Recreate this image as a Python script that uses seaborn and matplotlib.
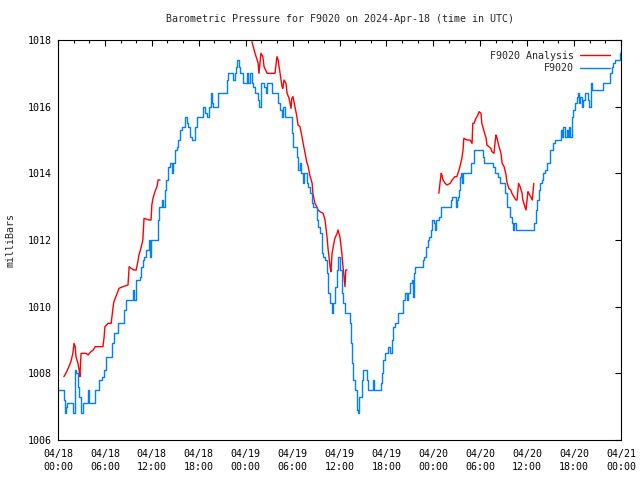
import matplotlib
matplotlib.use('Agg')
import matplotlib.dates as mdates
from matplotlib import pyplot as plt
import numpy as np
import pandas as pd
import seaborn as sns

START = pd.Timestamp('2024-04-18 00:00')

# F9020 observations: hours since 04/18 00:00 UTC, pressure in mb
obs_hours = [0.0, 0.64, 0.77, 0.9, 1.0, 1.15, 1.8, 1.9, 2.2, 2.3, 2.55, 2.7, 2.95, 3.2, 3.85, 4.0,
             4.7, 5.25, 5.6, 5.9, 6.15, 6.9, 7.15, 7.7, 8.45, 8.7, 9.6, 9.7, 10.0, 10.5, 10.6, 10.85,
             11.0, 11.25, 11.65, 11.75, 11.9, 12.8, 12.9, 13.3, 13.4, 13.7, 13.8, 14.05, 14.3, 14.6,
             14.7, 14.95, 15.2, 15.35, 15.6, 15.85, 16.25, 16.5, 16.6, 16.9, 17.15, 17.5, 17.8,
             18.55, 18.8, 19.05, 19.3, 19.55, 19.7, 19.8, 20.45, 21.6, 21.75, 22.4, 22.65, 22.75,
             22.9, 23.15, 23.3, 23.65, 24.15, 24.3, 24.55, 24.8, 24.95, 25.2, 25.6, 25.7, 25.95,
             26.35, 26.6, 26.75, 27.1, 27.35, 28.15, 28.4, 28.65, 28.75, 29.0, 29.9, 30.05, 30.55,
             30.7, 30.95, 31.05, 31.35, 31.45, 31.85, 31.95, 32.2, 32.5, 32.6, 33.1, 33.25, 33.5,
             33.75, 33.9, 34.15, 34.4, 34.55, 34.8, 35.05, 35.2, 35.4, 35.7, 35.8, 36.05, 36.3,
             36.45, 36.7, 37.35, 37.45, 37.6, 37.7, 38.0, 38.25, 38.35, 38.5, 38.9, 39.0, 39.5,
             39.65, 40.3, 40.4, 41.3, 41.45, 41.55, 41.8, 42.2, 42.45, 42.7, 42.85, 43.1, 43.5,
             44.1, 44.35, 44.65, 44.75, 45.0, 45.25, 45.4, 45.5, 45.65, 46.7, 46.8, 47.05, 47.3,
             47.45, 47.7, 47.85, 48.1, 48.2, 48.35, 48.7, 49.0, 50.25, 50.4, 50.9, 51.0, 51.15,
             51.3, 51.4, 51.55, 51.65, 51.8, 52.8, 53.2, 54.35, 54.5, 55.6, 55.9, 56.25, 56.5,
             57.15, 57.4, 57.8, 58.05, 58.2, 58.3, 58.55, 60.85, 61.1, 61.25, 61.5, 61.65, 61.9,
             62.0, 62.3, 62.55, 62.9, 63.3, 63.55, 64.3, 64.45, 64.6, 64.85, 65.1, 65.2, 65.35,
             65.45, 65.75, 65.85, 66.1, 66.35, 66.5, 66.6, 66.75, 67.0, 67.1, 67.4, 67.75, 67.9,
             68.15, 68.3, 68.4, 69.7, 70.6, 70.85, 70.95, 71.2, 71.85, 72.0]
obs_mb = [1007.5, 1007.5, 1007.2, 1006.8, 1007.0, 1007.1, 1007.1, 1006.8, 1008.1, 1008.0, 1007.6,
          1007.3, 1006.8, 1007.1, 1007.5, 1007.1, 1007.5, 1007.8, 1007.9, 1008.1, 1008.5, 1008.9,
          1009.2, 1009.5, 1009.9, 1010.2, 1010.5, 1010.2, 1010.8, 1010.9, 1011.2, 1011.4, 1011.5,
          1011.7, 1012.0, 1011.5, 1012.0, 1012.6, 1013.0, 1013.2, 1013.0, 1013.5, 1013.8, 1014.2,
          1014.3, 1014.0, 1014.3, 1014.7, 1014.8, 1015.0, 1015.3, 1015.4, 1015.7, 1015.5, 1015.4,
          1015.1, 1015.0, 1015.4, 1015.7, 1016.0, 1015.8, 1015.7, 1016.0, 1016.4, 1016.1, 1016.0,
          1016.4, 1016.8, 1017.0, 1016.8, 1017.0, 1017.2, 1017.4, 1017.2, 1017.0, 1016.7, 1017.0,
          1016.7, 1017.0, 1016.7, 1016.6, 1016.4, 1016.2, 1016.0, 1016.7, 1016.6, 1016.4, 1016.7,
          1016.7, 1016.4, 1016.1, 1015.9, 1015.7, 1016.0, 1015.7, 1015.2, 1014.8, 1014.5, 1014.1,
          1014.3, 1014.0, 1013.7, 1014.0, 1013.7, 1013.6, 1013.4, 1013.1, 1013.0, 1012.6, 1012.4,
          1012.2, 1011.6, 1011.5, 1011.4, 1011.0, 1010.4, 1010.1, 1009.8, 1010.1, 1010.6, 1011.1,
          1011.5, 1011.1, 1010.4, 1010.1, 1009.8, 1009.5, 1008.9, 1008.3, 1007.8, 1007.5, 1006.9,
          1006.8, 1007.3, 1007.8, 1008.1, 1007.8, 1007.5, 1007.8, 1007.5, 1007.7, 1008.0, 1008.4,
          1008.6, 1008.8, 1008.6, 1009.0, 1009.4, 1009.5, 1009.8, 1010.2, 1010.4, 1010.2, 1010.4,
          1010.7, 1010.8, 1010.3, 1011.0, 1011.2, 1011.4, 1011.5, 1011.8, 1012.0, 1012.1, 1012.3,
          1012.6, 1012.5, 1012.3, 1012.6, 1012.7, 1013.0, 1013.2, 1013.3, 1013.0, 1013.2, 1013.3,
          1013.5, 1013.9, 1014.0, 1013.7, 1014.0, 1014.3, 1014.7, 1014.5, 1014.3, 1014.2, 1014.0,
          1013.9, 1013.7, 1013.4, 1013.0, 1012.7, 1012.5, 1012.3, 1012.5, 1012.3, 1012.5, 1012.9,
          1013.2, 1013.5, 1013.7, 1013.8, 1014.0, 1014.1, 1014.3, 1014.7, 1014.9, 1015.0, 1015.3,
          1015.1, 1015.4, 1015.1, 1015.3, 1015.1, 1015.4, 1015.1, 1015.7, 1015.9, 1016.1, 1016.3,
          1016.4, 1016.1, 1016.3, 1016.0, 1016.2, 1016.4, 1016.2, 1016.0, 1016.7, 1016.5, 1016.5,
          1016.7, 1017.0, 1017.2, 1017.3, 1017.4, 1017.6, 1017.7]

# F9020 Analysis, three separate runs
ana1_hours = [0.75, 1.0, 1.3, 1.65, 1.9, 2.05, 2.2, 2.3, 2.55, 2.7, 2.8, 2.95, 3.6, 3.85, 4.2, 4.5,
              4.75, 5.75, 5.9, 6.0, 6.4, 6.8, 7.05, 7.15, 7.4, 7.65, 7.8, 8.3, 8.95, 9.1, 9.35, 9.7,
              10.0, 10.25, 10.35, 10.6, 10.85, 11.0, 11.65, 11.9, 12.0, 12.15, 12.4, 12.65, 12.8, 13.05]
ana1_mb = [1007.9, 1008.0, 1008.15, 1008.35, 1008.6, 1008.9, 1008.8, 1008.5, 1008.3, 1008.1, 1007.9,
           1008.6, 1008.6, 1008.55, 1008.65, 1008.7, 1008.8, 1008.8, 1009.1, 1009.4, 1009.5, 1009.5,
           1010.0, 1010.15, 1010.3, 1010.45, 1010.55, 1010.6, 1010.65, 1011.2, 1011.15, 1011.1,
           1011.1, 1011.4, 1011.55, 1011.75, 1012.0, 1012.65, 1012.6, 1012.6, 1013.05, 1013.25,
           1013.45, 1013.6, 1013.8, 1013.8]
ana2_hours = [24.8, 25.2, 25.6, 25.7, 25.95, 26.2, 26.35, 26.75, 27.75, 28.0, 28.15, 28.4, 28.65,
              28.75, 28.9, 29.15, 29.3, 29.55, 29.8, 29.9, 30.05, 30.3, 30.55, 30.7, 30.95, 31.2,
              31.35, 31.6, 31.85, 31.95, 32.2, 32.5, 32.6, 32.85, 33.1, 33.25, 33.5, 33.9, 34.15,
              34.4, 34.55, 34.8, 34.9, 35.05, 35.2, 35.4, 35.7, 35.8, 36.05, 36.3, 36.45, 36.7,
              36.8, 36.95]
ana2_mb = [1017.95, 1017.6, 1017.3, 1017.0, 1017.6, 1017.5, 1017.2, 1017.0, 1017.0, 1017.5, 1017.4,
           1017.0, 1016.6, 1016.55, 1016.8, 1016.7, 1016.4, 1016.25, 1015.95, 1016.25, 1016.3,
           1016.0, 1015.7, 1015.45, 1015.4, 1015.1, 1014.9, 1014.6, 1014.3, 1014.25, 1013.95,
           1013.7, 1013.4, 1013.1, 1013.0, 1012.9, 1012.85, 1012.8, 1012.6, 1012.1, 1011.7, 1011.2,
           1011.05, 1011.6, 1011.8, 1012.05, 1012.2, 1012.3, 1012.1, 1011.6, 1011.2, 1010.6, 1011.1,
           1011.1]
ana3_hours = [48.7, 49.0, 49.1, 49.25, 49.5, 49.75, 50.15, 50.4, 50.75, 51.0, 51.15, 51.4, 51.65,
              51.8, 51.9, 52.3, 52.7, 52.95, 53.05, 53.2, 53.45, 53.7, 53.85, 54.1, 54.2, 54.5,
              54.75, 54.85, 55.1, 55.35, 55.5, 55.75, 56.0, 56.1, 56.4, 56.65, 56.8, 57.05, 57.3,
              57.4, 57.65, 57.9, 58.05, 58.3, 58.55, 58.7, 58.9, 59.1, 59.35, 59.45, 59.7, 59.85,
              60.1, 60.2, 60.45, 60.65, 60.85]
ana3_mb = [1013.4, 1014.0, 1013.95, 1013.8, 1013.7, 1013.65, 1013.7, 1013.8, 1013.9, 1013.9, 1014.0,
           1014.2, 1014.45, 1014.7, 1015.05, 1015.0, 1015.0, 1014.9, 1015.5, 1015.5, 1015.65,
           1015.75, 1015.85, 1015.8, 1015.5, 1015.25, 1015.05, 1014.85, 1014.8, 1014.75, 1014.65,
           1014.6, 1015.15, 1015.1, 1014.8, 1014.6, 1014.3, 1014.2, 1013.95, 1013.75, 1013.55,
           1013.5, 1013.4, 1013.3, 1013.2, 1013.2, 1013.7, 1013.6, 1013.4, 1013.2, 1013.0, 1012.9,
           1013.45, 1013.4, 1013.3, 1013.2, 1013.7]

x_labels = ['04/18\n00:00', '04/18\n06:00', '04/18\n12:00', '04/18\n18:00', '04/19\n00:00',
            '04/19\n06:00', '04/19\n12:00', '04/19\n18:00', '04/20\n00:00', '04/20\n06:00',
            '04/20\n12:00', '04/20\n18:00', '04/21\n00:00']


def to_time(hours):
    return START + pd.to_timedelta(np.asarray(hours), unit='h')


sns.set_style('white')
plt.rcParams['font.family'] = ['DejaVu Sans Mono', 'DejaVu Sans']
plt.rcParams['font.size'] = 7.2

fig = plt.figure(figsize=(6.4, 4.8), dpi=100)
ax = fig.add_axes([58 / 640, 40 / 480, 563 / 640, 400 / 480])

red = '#ff0000'
blue = '#0080ff'
for i, (h, v) in enumerate([(ana1_hours, ana1_mb), (ana2_hours, ana2_mb), (ana3_hours, ana3_mb)]):
    seg = pd.DataFrame({'time': to_time(h), 'mb': v})
    sns.lineplot(data=seg, x='time', y='mb', ax=ax, color=red, lw=1.0,
                 label='F9020 Analysis' if i == 0 else None)

obs = pd.DataFrame({'time': to_time(obs_hours), 'mb': obs_mb})
sns.lineplot(data=obs, x='time', y='mb', ax=ax, color=blue, lw=1.0,
             drawstyle='steps-post', label='F9020')

ax.set_xlim(START, START + pd.Timedelta(hours=72))
ax.set_ylim(1006, 1018)
ax.set_yticks(np.arange(1006, 1019, 2))
ax.set_yticklabels([str(v) for v in range(1006, 1019, 2)])
ax.set_xticks(to_time(np.arange(0, 73, 6)))
ax.set_xticklabels(x_labels, linespacing=1.35)
ax.xaxis.set_minor_locator(mdates.HourLocator(interval=2))

ax.tick_params(which='both', direction='in', top=True, right=True, colors='black', labelsize=7.2)
ax.tick_params(which='major', length=4.5, width=0.8, pad=4.5)
ax.tick_params(axis='x', which='major', pad=6.5)
ax.tick_params(which='minor', length=2.5, width=0.8)
for s in ax.spines.values():
    s.set_color('black')
    s.set_linewidth(0.8)

ax.set_xlabel('')
ax.set_ylabel('milliBars', labelpad=9, fontsize=7.2)
ax.set_title('Barometric Pressure for F9020 on 2024-Apr-18 (time in UTC)', pad=13, fontsize=7.2)

ax.legend(loc='upper right', frameon=False, markerfirst=False, handlelength=3, fontsize=7.2,
          handletextpad=0.6, labelspacing=0.25, borderaxespad=0.8, borderpad=0.3)

plt.savefig('out.png', dpi=100)
